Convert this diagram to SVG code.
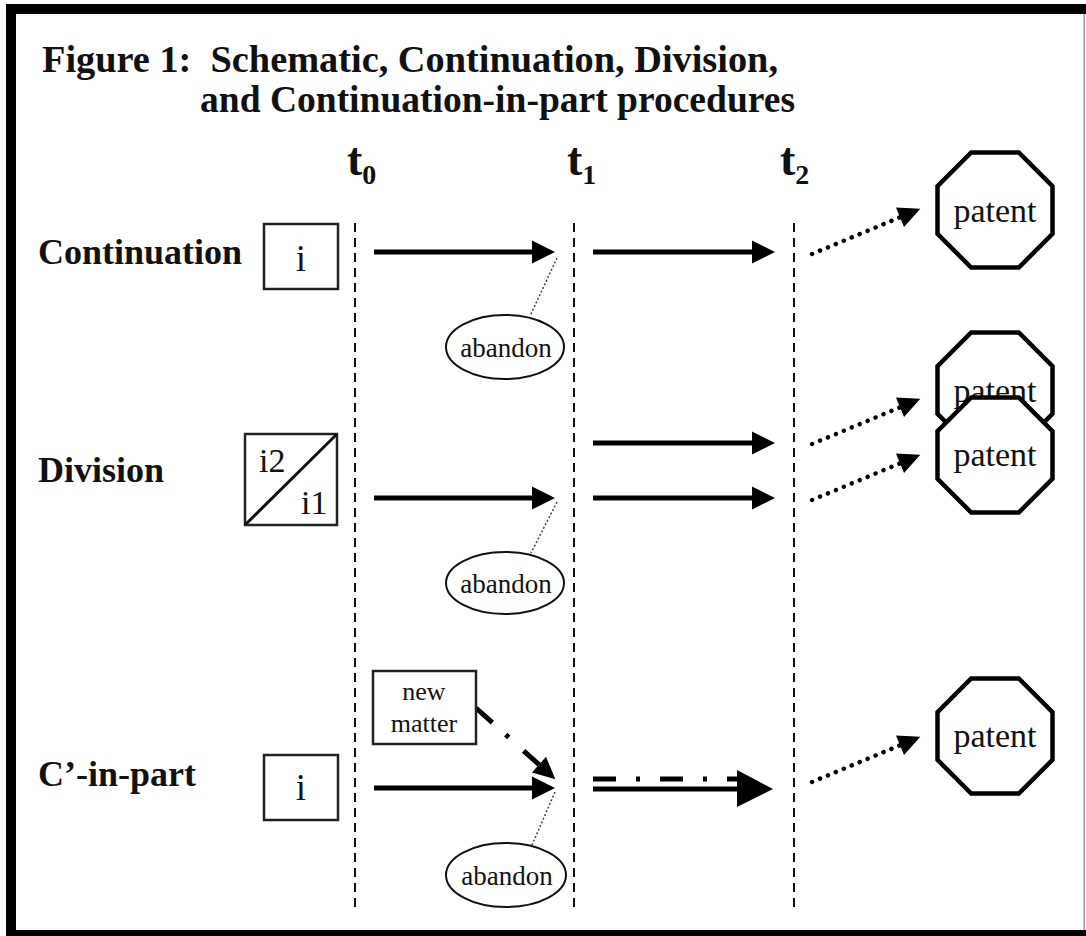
<svg xmlns="http://www.w3.org/2000/svg" width="1086" height="936" viewBox="0 0 1086 936">
<style>
.serif{font-family:"Liberation Serif","Times New Roman",serif;fill:#111}
.title{font-size:38px;font-weight:bold}
.lbl{font-size:36px;font-weight:bold}
.tt{font-size:46px;font-weight:bold}
.ts{font-size:28px;font-weight:bold}
.small{font-size:27px}
.pat{font-size:34px}
.box{fill:#fff;stroke:#222;stroke-width:2.5}
.oct{fill:#fff;stroke:#000;stroke-width:4.5}
.ell{fill:#fff;stroke:#111;stroke-width:2}
.guide{stroke:#111;stroke-width:2;stroke-dasharray:9 6}
.solid{stroke:#000;stroke-width:5;fill:none}
.dotted{stroke:#000;stroke-width:4.5;fill:none;stroke-dasharray:0.1 8.5;stroke-linecap:round}
.thin{stroke:#444;stroke-width:1.5;fill:none;stroke-dasharray:2 2}
</style>
<defs>
<marker id="ah" markerUnits="userSpaceOnUse" markerWidth="24" markerHeight="24" refX="0" refY="12" orient="auto" overflow="visible">
<path d="M0,0.5 L23,12 L0,23.5 z" fill="#000"/>
</marker>
<marker id="ahd" markerUnits="userSpaceOnUse" markerWidth="22" markerHeight="22" refX="0" refY="10.5" orient="auto" overflow="visible">
<path d="M0,0 L22,10.5 L0,21 z" fill="#000"/>
</marker>
<polygon id="octagon" points="-23.8,-57.5 23.8,-57.5 57.5,-23.8 57.5,23.8 23.8,57.5 -23.8,57.5 -57.5,23.8 -57.5,-23.8"/>
</defs>

<rect x="0" y="0" width="1086" height="936" fill="#fff"/>
<g id="frame">
<rect x="6" y="4" width="1080" height="10" fill="#000"/>
<rect x="6" y="4" width="10" height="932" fill="#000"/>
<rect x="6" y="930" width="1080" height="6" fill="#000"/>
<rect x="1083.5" y="14" width="1.5" height="916" fill="#999"/>
</g>

<g id="title">
<text class="serif title" x="42" y="72" xml:space="preserve" textLength="736" lengthAdjust="spacingAndGlyphs">Figure 1:  Schematic, Continuation, Division,</text>
<text class="serif title" x="200" y="112" textLength="595" lengthAdjust="spacingAndGlyphs">and Continuation-in-part procedures</text>
</g>

<g id="time-labels">
<text class="serif tt" x="347" y="175">t<tspan class="ts" y="184">0</tspan></text>
<text class="serif tt" x="567" y="175">t<tspan class="ts" y="184">1</tspan></text>
<text class="serif tt" x="780" y="175">t<tspan class="ts" y="184">2</tspan></text>
</g>

<g id="guides">
<line class="guide" x1="355" y1="223" x2="355" y2="908"/>
<line class="guide" x1="574" y1="223" x2="574" y2="908"/>
<line class="guide" x1="794" y1="223" x2="794" y2="908"/>
</g>

<g id="row-labels">
<text class="serif lbl" x="38" y="264">Continuation</text>
<text class="serif lbl" x="38" y="482">Division</text>
<text class="serif lbl" x="38" y="786">C’-in-part</text>
</g>

<g id="connectors">
<line class="solid" x1="374" y1="252" x2="532" y2="252" marker-end="url(#ah)"/>
<line class="solid" x1="593" y1="252" x2="752" y2="252" marker-end="url(#ah)"/>
<line class="dotted" x1="812" y1="254" x2="900" y2="217.3" marker-end="url(#ahd)"/>
<line class="thin" x1="557" y1="258" x2="530" y2="316"/>
<line class="solid" x1="374" y1="498" x2="532" y2="498" marker-end="url(#ah)"/>
<line class="solid" x1="593" y1="443" x2="752" y2="443" marker-end="url(#ah)"/>
<line class="solid" x1="593" y1="498" x2="752" y2="498" marker-end="url(#ah)"/>
<line class="dotted" x1="812" y1="444" x2="900" y2="407.3" marker-end="url(#ahd)"/>
<line class="dotted" x1="812" y1="500" x2="900" y2="463.3" marker-end="url(#ahd)"/>
<line class="thin" x1="557" y1="502" x2="531" y2="553"/>
<line class="solid" x1="374" y1="788" x2="532" y2="788" marker-end="url(#ah)"/>
<line x1="476" y1="708" x2="539" y2="764.6" stroke="#000" stroke-width="5" stroke-dasharray="22 18 4 20" marker-end="url(#ahd)"/>
<line x1="593" y1="779" x2="745" y2="779" stroke="#000" stroke-width="5" stroke-dasharray="23 20 4 20"/>
<line class="solid" x1="593" y1="789" x2="740" y2="789"/>
<polygon points="737,770 773,789 737,807" fill="#000"/>
<line class="dotted" x1="812" y1="782" x2="900" y2="745.3" marker-end="url(#ahd)"/>
<line class="thin" x1="555" y1="792" x2="532" y2="845"/>
</g>

<g id="i-continuation">
<rect class="box" x="264" y="224" width="74" height="65"/>
<text class="serif" x="301" y="271" font-size="37" text-anchor="middle">i</text>
</g>

<g id="i-division">
<rect class="box" x="245" y="434" width="92" height="91" stroke-width="3"/>
<line x1="245" y1="525" x2="337" y2="434" stroke="#111" stroke-width="3"/>
<text class="serif" x="259" y="472" font-size="34">i2</text>
<text class="serif" x="301" y="514" font-size="34">i1</text>
</g>

<g id="i-cip">
<rect class="box" x="264" y="755" width="74" height="65"/>
<text class="serif" x="301" y="800" font-size="37" text-anchor="middle">i</text>
</g>

<g id="new-matter">
<rect class="box" x="373" y="671" width="103" height="73"/>
<text class="serif" x="424" y="700" font-size="26" text-anchor="middle">new</text>
<text class="serif" x="424" y="732" font-size="26" text-anchor="middle">matter</text>
</g>

<g id="abandon-1">
<ellipse class="ell" cx="505" cy="347" rx="59" ry="32"/>
<text class="serif small" x="506" y="357" text-anchor="middle">abandon</text>
</g>
<g id="abandon-2">
<ellipse class="ell" cx="505" cy="583" rx="59" ry="31"/>
<text class="serif small" x="506" y="593" text-anchor="middle">abandon</text>
</g>
<g id="abandon-3">
<ellipse class="ell" cx="506" cy="875" rx="60" ry="32"/>
<text class="serif small" x="507" y="885" text-anchor="middle">abandon</text>
</g>

<g id="patent-1">
<use href="#octagon" class="oct" transform="translate(995,210)"/>
<text class="serif pat" x="995" y="222" text-anchor="middle">patent</text>
</g>
<g id="patent-2">
<use href="#octagon" class="oct" transform="translate(995,390)"/>
<text class="serif pat" x="995" y="402" text-anchor="middle">patent</text>
</g>
<g id="patent-3">
<use href="#octagon" class="oct" transform="translate(995,455)"/>
<text class="serif pat" x="995" y="466" text-anchor="middle">patent</text>
</g>
<g id="patent-4">
<use href="#octagon" class="oct" transform="translate(995,736)"/>
<text class="serif pat" x="995" y="747" text-anchor="middle">patent</text>
</g>
</svg>
